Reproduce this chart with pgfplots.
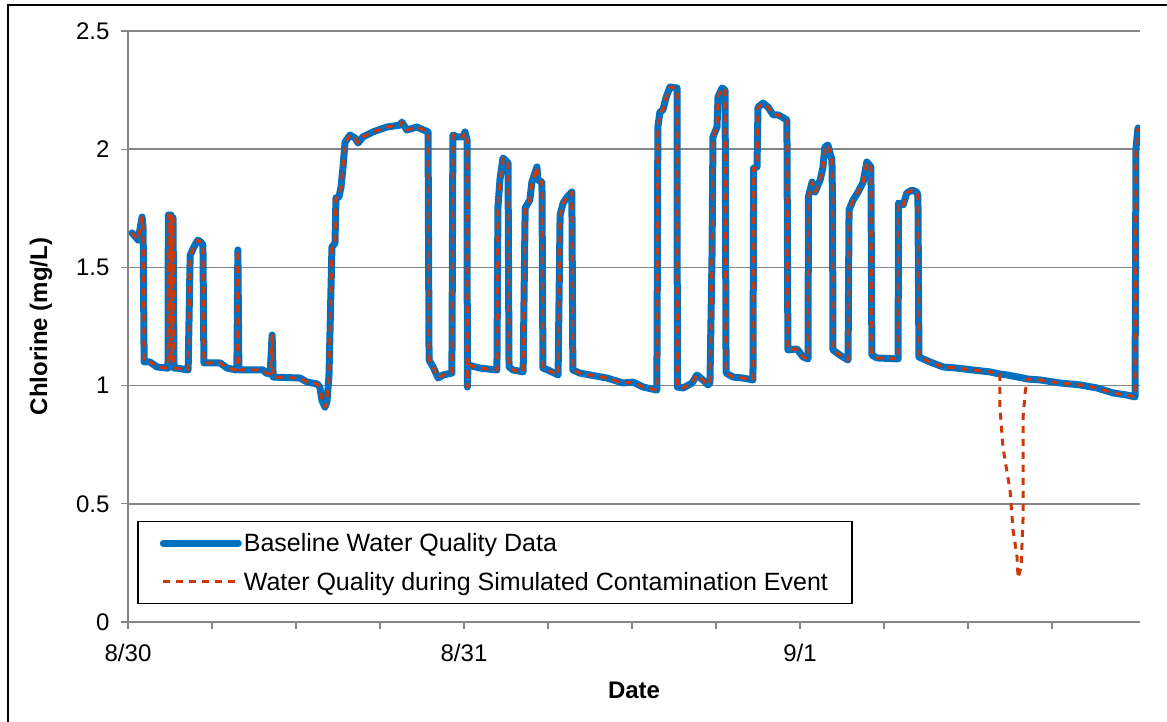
\documentclass[border=0pt]{standalone}
\usepackage{pgfplots}
\pgfplotsset{compat=1.18}
\usepackage{fontspec}
\setmainfont{Liberation Sans}
\definecolor{baseblue}{RGB}{0,112,192}
\definecolor{contred}{RGB}{204,56,10}
\definecolor{gridgray}{RGB}{134,134,134}

\begin{document}
\begin{tikzpicture}[x=1pt,y=1pt]
\useasboundingbox (0,0) rectangle (1167,721);
\draw[black,line width=2pt] (8,-2) -- (8,716) -- (1169,716);
\begin{axis}[
  at={(128pt,99pt)}, anchor=south west,
  scale only axis, width=1012pt, height=591pt,
  xmin=0, xmax=3.012, ymin=0, ymax=2.5,
  axis x line*=bottom, axis y line*=left,
  axis line style={gridgray,line width=1.6pt},
  every outer x axis line/.append style={-},
  every outer y axis line/.append style={-},
  xtick={0,0.25,...,2.8},
  xticklabels={8/30,,,,8/31,,,,9/1,,,},
  ytick={0,0.5,...,2.5},
  ymajorgrids,
  grid style={gridgray,line width=1.6pt},
  tick style={gridgray,line width=1.2pt},
  tick align=outside,
  major tick length=7pt,
  /pgf/number format/assume math mode=true,
  tick label style={font=\fontsize{24}{28}\selectfont},
  xticklabel style={yshift=-12pt},
  yticklabel style={xshift=-8pt},
  xlabel={\textbf{Date}},
  ylabel={\textbf{Chlorine (mg/L)}},
  label style={font=\fontsize{24}{28}\selectfont},
  xlabel style={at={(axis description cs:0.5,-0.115)}, anchor=center},
  ylabel style={at={(axis description cs:-0.0860,0.5)}, anchor=center},
  legend style={at={(0.009,0.030)}, anchor=south west, draw=black, line width=1.5pt,
    fill=white, font=\fontsize{25}{29}\selectfont, inner xsep=22pt, inner ysep=10pt,
    row sep=15pt},
  legend cell align=left,
  legend image code/.code={\draw[#1] (0pt,0pt) -- (75pt,0pt);},
]
\addplot[baseblue, line width=7pt, line join=round, line cap=round] coordinates {
(0.012,1.646)(0.030,1.616)(0.042,1.713)(0.045,1.667)(0.048,1.100)(0.065,1.100)(0.086,1.079)(0.116,1.074)
(0.119,1.074)(0.120,1.722)(0.125,1.100)(0.128,1.722)(0.132,1.100)(0.134,1.710)(0.137,1.074)
(0.146,1.074)(0.179,1.066)(0.185,1.552)(0.196,1.586)(0.208,1.616)(0.217,1.607)(0.223,1.595)(0.226,1.096)
(0.274,1.096)(0.295,1.074)(0.324,1.066)(0.327,1.574)(0.330,1.066)(0.402,1.066)(0.411,1.053)(0.423,1.049)
(0.429,1.214)(0.432,1.036)(0.512,1.032)(0.533,1.015)(0.563,1.007)(0.571,0.994)(0.577,0.939)(0.586,0.909)
(0.592,0.931)(0.598,1.036)(0.601,1.214)(0.607,1.586)(0.616,1.603)(0.619,1.794)(0.628,1.798)(0.634,1.840)
(0.640,1.925)(0.646,2.030)(0.661,2.060)(0.676,2.047)(0.685,2.026)(0.699,2.052)(0.729,2.073)(0.771,2.094)
(0.810,2.102)(0.815,2.115)(0.830,2.081)(0.860,2.094)(0.893,2.073)(0.896,1.108)(0.908,1.079)(0.923,1.032)
(0.938,1.045)(0.964,1.053)(0.967,2.060)(0.979,2.052)(0.997,2.052)(1.003,2.073)(1.009,2.039)(1.010,0.994)
(1.012,1.087)(1.048,1.074)(1.098,1.066)(1.101,1.755)(1.107,1.870)(1.116,1.963)(1.131,1.942)(1.134,1.079)
(1.146,1.066)(1.176,1.058)(1.182,1.751)(1.196,1.785)(1.202,1.861)(1.217,1.925)(1.220,1.870)(1.232,1.861)
(1.235,1.074)(1.250,1.066)(1.280,1.045)(1.286,1.722)(1.295,1.772)(1.307,1.798)(1.321,1.819)(1.324,1.066)
(1.345,1.053)(1.375,1.045)(1.426,1.032)(1.473,1.011)(1.503,1.015)(1.533,0.994)(1.574,0.981)(1.577,2.094)
(1.583,2.157)(1.592,2.166)(1.601,2.217)(1.613,2.263)(1.634,2.259)(1.635,0.994)(1.652,0.990)(1.679,1.011)
(1.693,1.045)(1.711,1.024)(1.726,1.003)(1.732,1.011)(1.738,1.531)(1.741,2.052)(1.753,2.094)(1.756,2.221)
(1.768,2.259)(1.777,2.250)(1.780,1.053)(1.801,1.036)(1.830,1.032)(1.860,1.024)(1.862,1.920)(1.872,1.925)
(1.875,2.178)(1.890,2.195)(1.905,2.178)(1.920,2.145)(1.935,2.145)(1.961,2.124)(1.964,1.151)(1.991,1.155)
(2.009,1.121)(2.024,1.113)(2.025,1.798)(2.036,1.861)(2.045,1.819)(2.060,1.870)(2.068,1.920)(2.074,2.009)
(2.083,2.018)(2.095,1.954)(2.097,1.755)(2.098,1.151)(2.119,1.129)(2.143,1.108)(2.146,1.743)(2.158,1.785)
(2.173,1.819)(2.188,1.861)(2.199,1.946)(2.211,1.925)(2.214,1.129)(2.229,1.117)(2.292,1.113)(2.293,1.772)
(2.307,1.764)(2.318,1.815)(2.333,1.827)(2.348,1.819)(2.351,1.798)(2.354,1.121)(2.387,1.100)(2.426,1.079)
(2.467,1.074)(2.515,1.066)(2.565,1.058)(2.595,1.049)(2.616,1.045)(2.664,1.032)(2.676,1.028)(2.714,1.024)
(2.774,1.011)(2.833,1.003)(2.884,0.990)(2.932,0.969)(2.973,0.960)(2.997,0.952)(3.000,2.005)(3.006,2.090)
};
\addlegendentry{Baseline Water Quality Data}
\addplot[contred, line width=3pt, dash pattern=on 7pt off 6pt, line join=round] coordinates {
(0.012,1.646)(0.030,1.616)(0.042,1.713)(0.045,1.667)(0.048,1.100)(0.065,1.100)(0.086,1.079)(0.116,1.074)
(0.119,1.074)(0.120,1.722)(0.125,1.100)(0.128,1.722)(0.132,1.100)(0.134,1.710)(0.137,1.074)
(0.146,1.074)(0.179,1.066)(0.185,1.552)(0.196,1.586)(0.208,1.616)(0.217,1.607)(0.223,1.595)(0.226,1.096)
(0.274,1.096)(0.295,1.074)(0.324,1.066)(0.327,1.574)(0.330,1.066)(0.402,1.066)(0.411,1.053)(0.423,1.049)
(0.429,1.214)(0.432,1.036)(0.512,1.032)(0.533,1.015)(0.563,1.007)(0.571,0.994)(0.577,0.939)(0.586,0.909)
(0.592,0.931)(0.598,1.036)(0.601,1.214)(0.607,1.586)(0.616,1.603)(0.619,1.794)(0.628,1.798)(0.634,1.840)
(0.640,1.925)(0.646,2.030)(0.661,2.060)(0.676,2.047)(0.685,2.026)(0.699,2.052)(0.729,2.073)(0.771,2.094)
(0.810,2.102)(0.815,2.115)(0.830,2.081)(0.860,2.094)(0.893,2.073)(0.896,1.108)(0.908,1.079)(0.923,1.032)
(0.938,1.045)(0.964,1.053)(0.967,2.060)(0.979,2.052)(0.997,2.052)(1.003,2.073)(1.009,2.039)(1.010,0.994)
(1.012,1.087)(1.048,1.074)(1.098,1.066)(1.101,1.755)(1.107,1.870)(1.116,1.963)(1.131,1.942)(1.134,1.079)
(1.146,1.066)(1.176,1.058)(1.182,1.751)(1.196,1.785)(1.202,1.861)(1.217,1.925)(1.220,1.870)(1.232,1.861)
(1.235,1.074)(1.250,1.066)(1.280,1.045)(1.286,1.722)(1.295,1.772)(1.307,1.798)(1.321,1.819)(1.324,1.066)
(1.345,1.053)(1.375,1.045)(1.426,1.032)(1.473,1.011)(1.503,1.015)(1.533,0.994)(1.574,0.981)(1.577,2.094)
(1.583,2.157)(1.592,2.166)(1.601,2.217)(1.613,2.263)(1.634,2.259)(1.635,0.994)(1.652,0.990)(1.679,1.011)
(1.693,1.045)(1.711,1.024)(1.726,1.003)(1.732,1.011)(1.738,1.531)(1.741,2.052)(1.753,2.094)(1.756,2.221)
(1.768,2.259)(1.777,2.250)(1.780,1.053)(1.801,1.036)(1.830,1.032)(1.860,1.024)(1.862,1.920)(1.872,1.925)
(1.875,2.178)(1.890,2.195)(1.905,2.178)(1.920,2.145)(1.935,2.145)(1.961,2.124)(1.964,1.151)(1.991,1.155)
(2.009,1.121)(2.024,1.113)(2.025,1.798)(2.036,1.861)(2.045,1.819)(2.060,1.870)(2.068,1.920)(2.074,2.009)
(2.083,2.018)(2.095,1.954)(2.097,1.755)(2.098,1.151)(2.119,1.129)(2.143,1.108)(2.146,1.743)(2.158,1.785)
(2.173,1.819)(2.188,1.861)(2.199,1.946)(2.211,1.925)(2.214,1.129)(2.229,1.117)(2.292,1.113)(2.293,1.772)
(2.307,1.764)(2.318,1.815)(2.333,1.827)(2.348,1.819)(2.351,1.798)(2.354,1.121)(2.387,1.100)(2.426,1.079)
(2.467,1.074)(2.515,1.066)(2.565,1.058)(2.595,1.049)
(2.595,0.909)(2.604,0.740)(2.625,0.558)(2.634,0.389)(2.646,0.275)(2.649,0.186)(2.658,0.233)(2.664,0.444)
(2.664,0.656)(2.664,0.867)(2.670,0.969)(2.676,1.028)(2.714,1.024)
(2.774,1.011)(2.833,1.003)(2.884,0.990)(2.932,0.969)(2.973,0.960)(2.997,0.952)(3.000,2.005)(3.006,2.090)
};
\addlegendentry{Water Quality during Simulated Contamination Event}
\end{axis}
\end{tikzpicture}
\end{document}
